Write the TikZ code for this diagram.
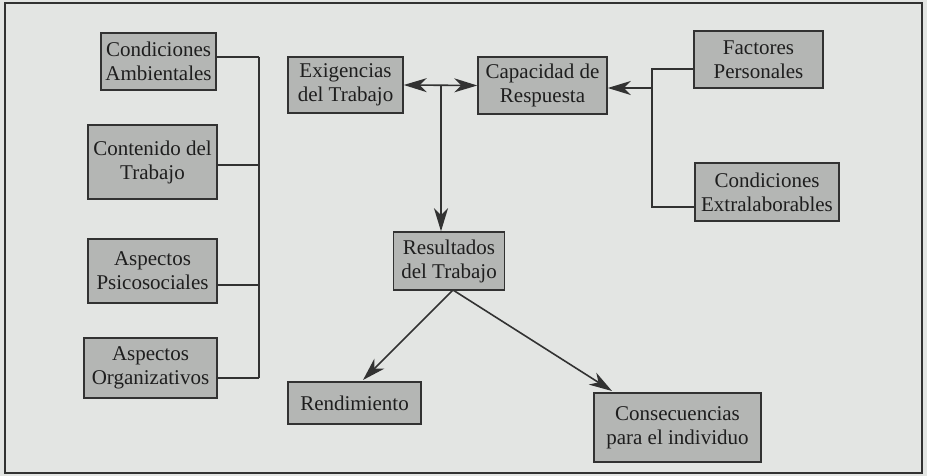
\documentclass[tikz,border=0pt]{standalone}
\usepackage{fontspec}
\setmainfont{Liberation Serif}
\usetikzlibrary{arrows.meta}
\definecolor{bgc}{RGB}{227,229,227}
\definecolor{boxc}{RGB}{180,182,180}
\definecolor{linec}{RGB}{50,50,50}
\definecolor{txtc}{RGB}{30,30,30}
\tikzset{
  box/.style={draw=linec, line width=1.5pt, fill=boxc, rectangle, inner sep=0pt,
    align=center, text=txtc, font=\rmfamily\fontsize{21}{24}\selectfont},
  conn/.style={draw=linec, line width=1.6pt},
  tipA/.tip={Stealth[length=23pt,width=14pt,inset=7pt]},
  arr/.style={conn, -tipA},
  darr/.style={conn, tipA-tipA}
}
\begin{document}
\begin{tikzpicture}[x=1pt,y=-1pt]
\fill[bgc] (0,0) rectangle (927,476);
\useasboundingbox (0,0) rectangle (927,476);
\draw[linec, line width=1.2pt] (5,3) rectangle (922,473);

\node[box, minimum width=115pt, minimum height=57pt] (amb) at (158.5,61.5) {Condiciones\\Ambientales};
\node[box, minimum width=129pt, minimum height=74pt] (cont) at (152.5,162) {Contenido del\\Trabajo};
\node[box, minimum width=129pt, minimum height=64pt] (psic) at (152.5,271) {Aspectos\\Psicosociales};
\node[box, minimum width=133pt, minimum height=60pt] (org) at (150.5,368) {Aspectos\\Organizativos};
\node[box, minimum width=115pt, minimum height=56pt] (exig) at (345.5,85) {Exigencias\\del Trabajo};
\node[box, minimum width=129pt, minimum height=57pt] (cap) at (542.5,85.5) {Capacidad de\\Respuesta};
\node[box, minimum width=111pt, minimum height=58pt] (res) at (449,261) {Resultados\\del Trabajo};
\node[box, minimum width=129pt, minimum height=57pt] (fact) at (758.5,59.5) {Factores\\Personales};
\node[box, minimum width=144pt, minimum height=58pt] (extra) at (767,192) {Condiciones\\Extralaborables};
\node[box, minimum width=133pt, minimum height=42pt] (rend) at (354.5,403) {Rendimiento};
\node[box, minimum width=167pt, minimum height=69pt] (cons) at (677.5,427.5) {Consecuencias\\para el individuo};

% left bus
\coordinate (b1) at (259,57);
\coordinate (b2) at (259,165);
\coordinate (b3) at (259,285);
\coordinate (b4) at (259,378);
\draw[conn] (amb.east |- b1) -- (b1);
\draw[conn] (cont.east |- b2) -- (b2);
\draw[conn] (psic.east |- b3) -- (b3);
\draw[conn] (org.east |- b4) -- (b4);
\draw[conn] (b1) -- (b4);

% double arrow and down arrow
\draw[darr] (exig.east) -- (cap.west);
\coordinate (j) at (441,85);
\draw[arr] (j) -- (j |- res.north);

% right bracket
\coordinate (r1) at (652,69);
\coordinate (r2) at (652,207);
\coordinate (r3) at (652,88);
\draw[conn] (fact.west |- r1) -- (r1) -- (r2) -- (extra.west |- r2);
\draw[arr] (r3) -- (cap.east |- r3);

% bottom arrows
\coordinate (s) at (453,290);
\coordinate (t1) at (363,380);
\coordinate (t2) at (612,391);
\draw[arr] (s) -- (t1);
\draw[arr] (s) -- (t2);
\end{tikzpicture}
\end{document}
